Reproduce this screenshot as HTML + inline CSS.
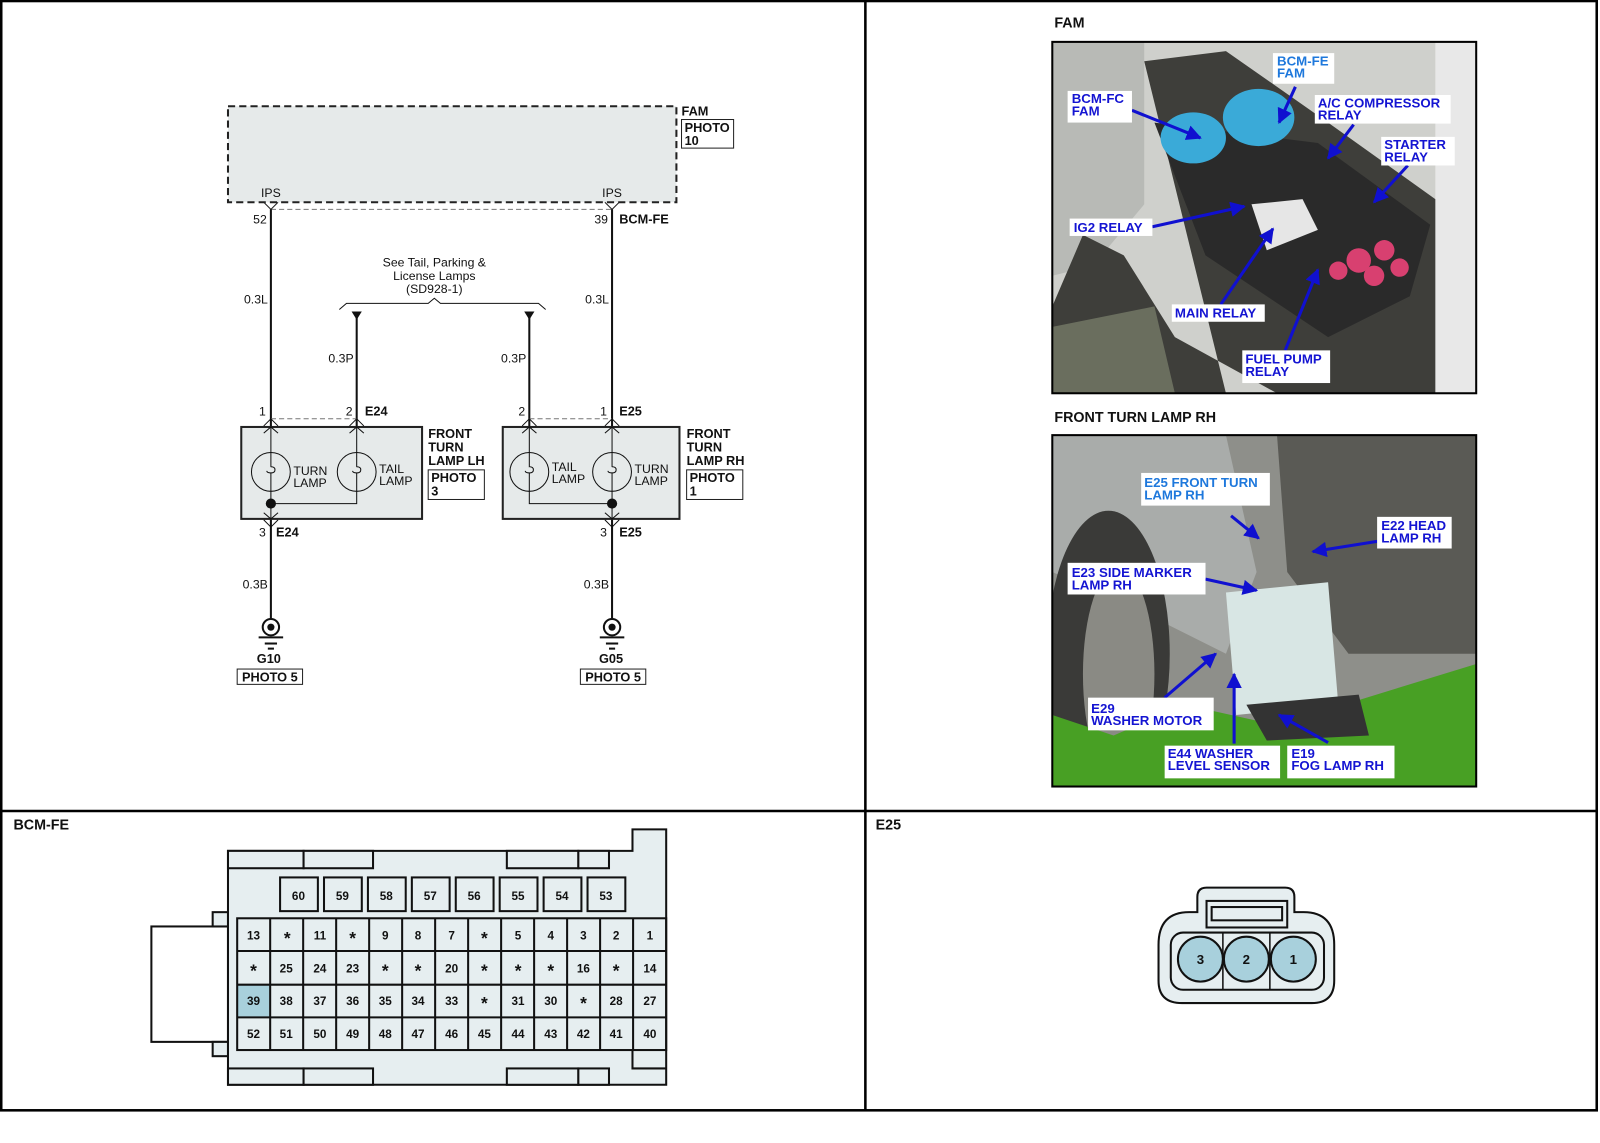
<!DOCTYPE html>
<html><head><meta charset="utf-8"><style>
html,body{margin:0;padding:0;background:#fff;}
svg{display:block;}
text{font-family:"Liberation Sans",Arial,sans-serif;}
.t{font-size:12px;fill:#111;}
.b{font-size:12.5px;font-weight:bold;fill:#111;}
.bl{font-size:13px;font-weight:bold;fill:#1414d2;}
.lb{font-size:13px;font-weight:bold;fill:#1e78dc;}
.p{font-size:11.5px;font-weight:bold;fill:#111;text-anchor:middle;}
</style></head><body>
<svg width="1600" height="1143" viewBox="0 0 1566 1119" xmlns="http://www.w3.org/2000/svg">
<defs>
<marker id="ar" viewBox="0 0 10 10" refX="9" refY="5" markerWidth="5" markerHeight="5" orient="auto"><path d="M0,0 L10,5 L0,10 z" fill="#1010d0"/></marker>
<clipPath id="c1"><rect x="1030" y="41" width="415" height="344"/></clipPath>
<clipPath id="c2"><rect x="1030" y="426" width="415" height="344"/></clipPath>
</defs>
<rect x="1" y="1" width="1562" height="1086" fill="#fff" stroke="#000" stroke-width="2.5"/>
<line x1="847" y1="0" x2="847" y2="1087" stroke="#000" stroke-width="2.5"/>
<line x1="0" y1="794" x2="1563" y2="794" stroke="#000" stroke-width="2.5"/>

<!-- FAM box -->
<rect x="223" y="104" width="439" height="94" fill="#e6eaea" stroke="#222" stroke-width="2" stroke-dasharray="7,4"/>
<text class="b" x="667" y="113">FAM</text>
<rect x="667" y="117" width="51" height="28" fill="#fff" stroke="#222" stroke-width="1"/>
<text class="b" x="670" y="129">PHOTO</text><text class="b" x="670" y="142">10</text>
<text class="t" x="265" y="193" text-anchor="middle">IPS</text>
<text class="t" x="599" y="193" text-anchor="middle">IPS</text>
<line x1="265" y1="205" x2="599" y2="205" stroke="#777" stroke-width="1" stroke-dasharray="5,3"/>
<g fill="none" stroke="#222" stroke-width="1">
<polyline points="258,198 265,205 272,198"/><polyline points="592,198 599,205 606,198"/>
</g>
<text class="t" x="261" y="219" text-anchor="end">52</text>
<text class="t" x="595" y="219" text-anchor="end">39</text>
<text class="b" x="606" y="219">BCM-FE</text>

<g stroke="#111" stroke-width="2">
<line x1="265" y1="205" x2="265" y2="418"/><line x1="599" y1="205" x2="599" y2="418"/>
<line x1="349" y1="308" x2="349" y2="418"/><line x1="518" y1="308" x2="518" y2="418"/>
<line x1="265" y1="508" x2="265" y2="606"/><line x1="599" y1="508" x2="599" y2="606"/>
</g>
<text class="t" x="262" y="297" text-anchor="end">0.3L</text>
<text class="t" x="596" y="297" text-anchor="end">0.3L</text>
<text class="t" x="346" y="355" text-anchor="end">0.3P</text>
<text class="t" x="515" y="355" text-anchor="end">0.3P</text>
<text class="t" x="262" y="576" text-anchor="end">0.3B</text>
<text class="t" x="596" y="576" text-anchor="end">0.3B</text>

<text class="t" x="425" y="261" text-anchor="middle">See Tail, Parking &amp;</text>
<text class="t" x="425" y="274" text-anchor="middle">License Lamps</text>
<text class="t" x="425" y="287" text-anchor="middle">(SD928-1)</text>
<polyline points="332,303 339,297 419,297 425,292 431,297 527,297 534,303" fill="none" stroke="#111" stroke-width="1"/>
<polygon points="344,305 354,305 349,313" fill="#111"/>
<polygon points="513,305 523,305 518,313" fill="#111"/>

<text class="t" x="260" y="407" text-anchor="end">1</text>
<text class="t" x="345" y="407" text-anchor="end">2</text>
<text class="b" x="357" y="407">E24</text>
<text class="t" x="514" y="407" text-anchor="end">2</text>
<text class="t" x="594" y="407" text-anchor="end">1</text>
<text class="b" x="606" y="407">E25</text>
<g stroke="#777" stroke-width="1" stroke-dasharray="5,3">
<line x1="265" y1="410" x2="349" y2="410"/><line x1="518" y1="410" x2="599" y2="410"/>
</g>

<!-- lamp boxes -->
<rect x="236" y="418" width="177" height="90" fill="#e6eaea" stroke="#222" stroke-width="2"/>
<rect x="492" y="418" width="173" height="90" fill="#e6eaea" stroke="#222" stroke-width="2"/>
<g fill="none" stroke="#111" stroke-width="1">
<polyline points="258,417 265,410 272,417"/><polyline points="258,424 265,418 272,424"/>
<polyline points="342,417 349,410 356,417"/><polyline points="342,424 349,418 356,424"/>
<polyline points="511,417 518,410 525,417"/><polyline points="511,424 518,418 525,424"/>
<polyline points="592,417 599,410 606,417"/><polyline points="592,424 599,418 606,424"/>
<polyline points="258,502 265,508 272,502"/><polyline points="258,509 265,516 272,509"/>
<polyline points="592,502 599,508 606,502"/><polyline points="592,509 599,516 606,509"/>
<circle cx="265" cy="462" r="19"/><circle cx="349" cy="462" r="19"/>
<circle cx="518" cy="462" r="19"/><circle cx="599" cy="462" r="19"/>
<line x1="265" y1="418" x2="265" y2="508"/>
<polyline points="349,418 349,493 265,493"/>
<polyline points="518,418 518,493 599,493"/>
<line x1="599" y1="418" x2="599" y2="508"/>
</g>
<g fill="#e6eaea" stroke="#111" stroke-width="1">
<path d="M265,457 q4,0 4,3 q0,3 -4,3 q-4,0 -4,-2"/>
<path d="M349,457 q4,0 4,3 q0,3 -4,3 q-4,0 -4,-2"/>
<path d="M518,457 q4,0 4,3 q0,3 -4,3 q-4,0 -4,-2"/>
<path d="M599,457 q4,0 4,3 q0,3 -4,3 q-4,0 -4,-2"/>
</g>
<circle cx="265" cy="493" r="5" fill="#111"/><circle cx="599" cy="493" r="5" fill="#111"/>
<text class="t" x="287" y="465">TURN</text><text class="t" x="287" y="477">LAMP</text>
<text class="t" x="371" y="463">TAIL</text><text class="t" x="371" y="475">LAMP</text>
<text class="t" x="540" y="461">TAIL</text><text class="t" x="540" y="473">LAMP</text>
<text class="t" x="621" y="463">TURN</text><text class="t" x="621" y="475">LAMP</text>
<text class="b" x="419" y="429">FRONT</text><text class="b" x="419" y="442">TURN</text><text class="b" x="419" y="455">LAMP LH</text>
<rect x="419" y="460" width="55" height="29" fill="#fff" stroke="#222"/>
<text class="b" x="422" y="472">PHOTO</text><text class="b" x="422" y="485">3</text>
<text class="b" x="672" y="429">FRONT</text><text class="b" x="672" y="442">TURN</text><text class="b" x="672" y="455">LAMP RH</text>
<rect x="672" y="460" width="55" height="29" fill="#fff" stroke="#222"/>
<text class="b" x="675" y="472">PHOTO</text><text class="b" x="675" y="485">1</text>
<text class="t" x="260" y="525" text-anchor="end">3</text><text class="b" x="270" y="525">E24</text>
<text class="t" x="594" y="525" text-anchor="end">3</text><text class="b" x="606" y="525">E25</text>

<!-- grounds -->
<g stroke="#111" stroke-width="2" fill="#fff">
<circle cx="265" cy="614" r="8"/><circle cx="599" cy="614" r="8"/>
</g>
<circle cx="265" cy="614" r="3.5" fill="#111"/><circle cx="599" cy="614" r="3.5" fill="#111"/>
<g stroke="#111" stroke-width="2">
<line x1="253" y1="624" x2="277" y2="624"/><line x1="259" y1="630" x2="271" y2="630"/><line x1="262" y1="635" x2="268" y2="635"/>
<line x1="587" y1="624" x2="611" y2="624"/><line x1="593" y1="630" x2="605" y2="630"/><line x1="596" y1="635" x2="602" y2="635"/>
</g>
<text class="b" x="263" y="649" text-anchor="middle">G10</text>
<rect x="232" y="655" width="64" height="15" fill="#fff" stroke="#222"/>
<text class="b" x="264" y="667" text-anchor="middle">PHOTO 5</text>
<text class="b" x="598" y="649" text-anchor="middle">G05</text>
<rect x="568" y="655" width="64" height="15" fill="#fff" stroke="#222"/>
<text class="b" x="600" y="667" text-anchor="middle">PHOTO 5</text>

<!-- right top photo FAM -->
<text class="b" x="1032" y="27" style="font-size:14px">FAM</text>
<g clip-path="url(#c1)">
<rect x="1030" y="41" width="415" height="344" fill="#cfd0cc"/>
<polygon points="1030,41 1120,41 1120,200 1070,260 1030,270" fill="#b8bab6"/>
<polygon points="1120,60 1200,50 1300,120 1440,220 1445,385 1250,385 1150,330 1100,250 1060,230 1030,300 1030,385 1200,385" fill="#3e3e3a"/>
<polygon points="1130,120 1290,140 1400,220 1380,290 1300,330 1180,250" fill="#2a2a2a"/>
<polygon points="1225,200 1275,195 1290,225 1240,245" fill="#e6e6e6"/>
<ellipse cx="1168" cy="135" rx="32" ry="25" fill="#3aaad8"/>
<ellipse cx="1232" cy="115" rx="35" ry="28" fill="#3aaad8"/>
<g fill="#d84070"><circle cx="1330" cy="255" r="12"/><circle cx="1355" cy="245" r="10"/><circle cx="1345" cy="270" r="10"/><circle cx="1370" cy="262" r="9"/><circle cx="1310" cy="265" r="9"/></g>
<polygon points="1030,320 1130,300 1150,385 1030,385" fill="#6a6e5e"/>
<rect x="1405" y="41" width="40" height="344" fill="#e8e8e8"/>
</g>
<rect x="1030" y="41" width="415" height="344" fill="none" stroke="#000" stroke-width="2"/>
<g stroke="#1010d0" stroke-width="3" marker-end="url(#ar)">
<line x1="1108" y1="108" x2="1175" y2="135"/><line x1="1268" y1="85" x2="1252" y2="120"/>
<line x1="1325" y1="122" x2="1300" y2="155"/><line x1="1378" y1="162" x2="1345" y2="198"/>
<line x1="1128" y1="222" x2="1218" y2="202"/><line x1="1195" y1="298" x2="1246" y2="224"/>
<line x1="1258" y1="343" x2="1290" y2="264"/>
</g>
<g fill="#fff">
<rect x="1045" y="89" width="63" height="31"/><rect x="1246" y="52" width="60" height="30"/>
<rect x="1287" y="93" width="133" height="28"/><rect x="1352" y="134" width="72" height="28"/>
<rect x="1047" y="214" width="81" height="17"/><rect x="1147" y="298" width="91" height="17"/>
<rect x="1216" y="343" width="86" height="32"/>
</g>
<text class="bl" x="1049" y="101">BCM-FC</text><text class="bl" x="1049" y="113">FAM</text>
<text class="lb" x="1250" y="64">BCM-FE</text><text class="lb" x="1250" y="76">FAM</text>
<text class="bl" x="1290" y="105">A/C COMPRESSOR</text><text class="bl" x="1290" y="117">RELAY</text>
<text class="bl" x="1355" y="146">STARTER</text><text class="bl" x="1355" y="158">RELAY</text>
<text class="bl" x="1051" y="227">IG2 RELAY</text>
<text class="bl" x="1150" y="311">MAIN RELAY</text>
<text class="bl" x="1219" y="356">FUEL PUMP</text><text class="bl" x="1219" y="368">RELAY</text>

<!-- right photo 2 -->
<text class="b" x="1032" y="413" style="font-size:14px">FRONT TURN LAMP RH</text>
<g clip-path="url(#c2)">
<rect x="1030" y="426" width="415" height="344" fill="#8e8f8a"/>
<polygon points="1030,426 1200,426 1230,560 1200,640 1120,600 1030,560" fill="#a9acaa"/>
<polygon points="1250,426 1445,426 1445,640 1320,640 1260,560" fill="#5a5a55"/>
<ellipse cx="1085" cy="640" rx="60" ry="140" fill="#3a3a38"/>
<ellipse cx="1095" cy="660" rx="35" ry="105" fill="#8a8a84"/>
<polygon points="1200,580 1300,570 1310,690 1210,700" fill="#d8e6e4"/>
<polygon points="1030,700 1090,720 1160,690 1250,710 1445,650 1445,770 1030,770" fill="#48a024"/>
<polygon points="1220,690 1330,680 1340,720 1240,725" fill="#333"/>
</g>
<rect x="1030" y="426" width="415" height="344" fill="none" stroke="#000" stroke-width="2"/>
<g stroke="#1010d0" stroke-width="3" marker-end="url(#ar)">
<line x1="1205" y1="505" x2="1232" y2="527"/><line x1="1348" y1="530" x2="1285" y2="540"/>
<line x1="1180" y1="567" x2="1230" y2="578"/><line x1="1140" y1="683" x2="1190" y2="640"/>
<line x1="1208" y1="728" x2="1208" y2="660"/><line x1="1300" y1="727" x2="1252" y2="700"/>
</g>
<g fill="#fff">
<rect x="1117" y="463" width="126" height="32"/><rect x="1348" y="506" width="73" height="31"/>
<rect x="1045" y="551" width="135" height="31"/><rect x="1065" y="683" width="123" height="32"/>
<rect x="1140" y="730" width="113" height="32"/><rect x="1260" y="730" width="105" height="32"/>
</g>
<text class="lb" x="1120" y="477">E25 FRONT TURN</text><text class="lb" x="1120" y="489">LAMP RH</text>
<text class="bl" x="1352" y="519">E22 HEAD</text><text class="bl" x="1352" y="531">LAMP RH</text>
<text class="bl" x="1049" y="565">E23 SIDE MARKER</text><text class="bl" x="1049" y="577">LAMP RH</text>
<text class="bl" x="1068" y="698">E29</text><text class="bl" x="1068" y="710">WASHER MOTOR</text>
<text class="bl" x="1143" y="742">E44 WASHER</text><text class="bl" x="1143" y="754">LEVEL SENSOR</text>
<text class="bl" x="1264" y="742">E19</text><text class="bl" x="1264" y="754">FOG LAMP RH</text>

<!-- bottom labels -->
<text class="b" x="13" y="812" style="font-size:14px">BCM-FE</text>
<text class="b" x="857" y="812" style="font-size:14px">E25</text>

<!-- BCM-FE connector -->
<g stroke="#111" stroke-width="2" fill="#e6eef0">
<rect x="148" y="907" width="75" height="113" fill="#fff"/>
<rect x="208" y="893" width="15" height="14"/><rect x="208" y="1020" width="15" height="14"/>
<polygon points="223,833 619,833 619,812 652,812 652,1062 223,1062"/>
<rect x="223" y="833" width="74" height="17"/><rect x="297" y="833" width="68" height="17"/>
<rect x="496" y="833" width="70" height="17"/><rect x="566" y="833" width="30" height="17"/>
<rect x="223" y="1046" width="74" height="16"/><rect x="297" y="1046" width="68" height="16"/>
<rect x="496" y="1046" width="70" height="16"/><rect x="566" y="1046" width="30" height="16"/>
<polyline points="619,1028 619,1046 652,1046" fill="none"/>
</g>
<g stroke="#111" stroke-width="2" fill="#e6eef0">
<rect x="274" y="859" width="37" height="33"/><rect x="317" y="859" width="37" height="33"/>
<rect x="360" y="859" width="37" height="33"/><rect x="403" y="859" width="37" height="33"/>
<rect x="446" y="859" width="37" height="33"/><rect x="489" y="859" width="37" height="33"/>
<rect x="532" y="859" width="37" height="33"/><rect x="575" y="859" width="37" height="33"/>
</g>
<g>
<text class="p" x="292" y="881">60</text><text class="p" x="335" y="881">59</text><text class="p" x="378" y="881">58</text><text class="p" x="421" y="881">57</text>
<text class="p" x="464" y="881">56</text><text class="p" x="507" y="881">55</text><text class="p" x="550" y="881">54</text><text class="p" x="593" y="881">53</text>
</g>
<rect x="232" y="964" width="32.3" height="32" fill="#a8d0dc"/>
<g stroke="#111" stroke-width="2" fill="none">
<rect x="232" y="899" width="420" height="129"/>
<line x1="232" y1="931" x2="652" y2="931"/><line x1="232" y1="964" x2="652" y2="964"/><line x1="232" y1="996" x2="652" y2="996"/>
<line x1="264.3" y1="899" x2="264.3" y2="1028"/><line x1="296.6" y1="899" x2="296.6" y2="1028"/><line x1="328.9" y1="899" x2="328.9" y2="1028"/>
<line x1="361.2" y1="899" x2="361.2" y2="1028"/><line x1="393.5" y1="899" x2="393.5" y2="1028"/><line x1="425.8" y1="899" x2="425.8" y2="1028"/>
<line x1="458.1" y1="899" x2="458.1" y2="1028"/><line x1="490.4" y1="899" x2="490.4" y2="1028"/><line x1="522.7" y1="899" x2="522.7" y2="1028"/>
<line x1="555" y1="899" x2="555" y2="1028"/><line x1="587.3" y1="899" x2="587.3" y2="1028"/><line x1="619.6" y1="899" x2="619.6" y2="1028"/>
</g>
<g>
<text class="p" x="248" y="920">13</text><text class="p" x="281" y="924" style="font-size:17px">*</text><text class="p" x="313" y="920">11</text><text class="p" x="345" y="924" style="font-size:17px">*</text><text class="p" x="377" y="920">9</text><text class="p" x="409" y="920">8</text><text class="p" x="442" y="920">7</text><text class="p" x="474" y="924" style="font-size:17px">*</text><text class="p" x="507" y="920">5</text><text class="p" x="539" y="920">4</text><text class="p" x="571" y="920">3</text><text class="p" x="603" y="920">2</text><text class="p" x="636" y="920">1</text>
<text class="p" x="248" y="956" style="font-size:17px">*</text><text class="p" x="280" y="952">25</text><text class="p" x="313" y="952">24</text><text class="p" x="345" y="952">23</text><text class="p" x="377" y="956" style="font-size:17px">*</text><text class="p" x="409" y="956" style="font-size:17px">*</text><text class="p" x="442" y="952">20</text><text class="p" x="474" y="956" style="font-size:17px">*</text><text class="p" x="507" y="956" style="font-size:17px">*</text><text class="p" x="539" y="956" style="font-size:17px">*</text><text class="p" x="571" y="952">16</text><text class="p" x="603" y="956" style="font-size:17px">*</text><text class="p" x="636" y="952">14</text>
<text class="p" x="248" y="984">39</text><text class="p" x="280" y="984">38</text><text class="p" x="313" y="984">37</text><text class="p" x="345" y="984">36</text><text class="p" x="377" y="984">35</text><text class="p" x="409" y="984">34</text><text class="p" x="442" y="984">33</text><text class="p" x="474" y="988" style="font-size:17px">*</text><text class="p" x="507" y="984">31</text><text class="p" x="539" y="984">30</text><text class="p" x="571" y="988" style="font-size:17px">*</text><text class="p" x="603" y="984">28</text><text class="p" x="636" y="984">27</text>
<text class="p" x="248" y="1016">52</text><text class="p" x="280" y="1016">51</text><text class="p" x="313" y="1016">50</text><text class="p" x="345" y="1016">49</text><text class="p" x="377" y="1016">48</text><text class="p" x="409" y="1016">47</text><text class="p" x="442" y="1016">46</text><text class="p" x="474" y="1016">45</text><text class="p" x="507" y="1016">44</text><text class="p" x="539" y="1016">43</text><text class="p" x="571" y="1016">42</text><text class="p" x="603" y="1016">41</text><text class="p" x="636" y="1016">40</text>
</g>

<!-- E25 connector -->
<path d="M1181,869 L1258,869 Q1267,869 1267,878 L1267,893 L1276,893 Q1306,893 1306,925 L1306,960 Q1306,982 1284,982 L1157,982 Q1134,982 1134,960 L1134,925 Q1134,893 1164,893 L1172,893 L1172,878 Q1172,869 1181,869 Z" fill="#e6eef0" stroke="#111" stroke-width="2"/>
<rect x="1146" y="913" width="150" height="56" rx="12" fill="#e6eef0" stroke="#111" stroke-width="2"/>
<rect x="1181" y="882" width="79" height="26" fill="#e6eef0" stroke="#111" stroke-width="2"/>
<rect x="1186" y="888" width="69" height="13" fill="none" stroke="#111" stroke-width="2"/>
<g stroke="#111" stroke-width="1.5"><line x1="1197" y1="913" x2="1197" y2="969"/><line x1="1243" y1="913" x2="1243" y2="969"/></g>
<g fill="#a8d0dc" stroke="#111" stroke-width="2">
<circle cx="1175" cy="939" r="22"/><circle cx="1220" cy="939" r="22"/><circle cx="1266" cy="939" r="22"/>
</g>
<text class="p" x="1175" y="944" style="font-size:13px">3</text>
<text class="p" x="1220" y="944" style="font-size:13px">2</text>
<text class="p" x="1266" y="944" style="font-size:13px">1</text>
</svg>
</body></html>
